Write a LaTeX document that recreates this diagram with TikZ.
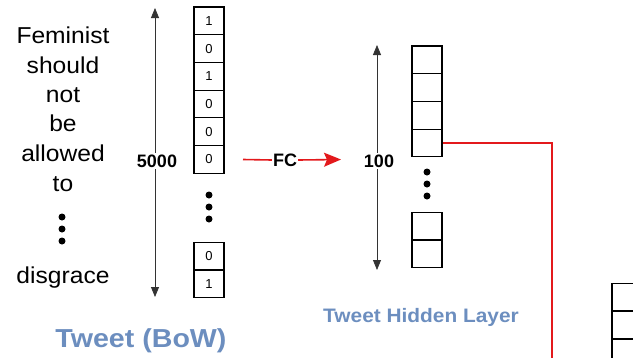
\documentclass[tikz,border=0pt]{standalone}
\usepackage{fontspec}
\setmainfont{Liberation Sans}
\newfontfamily\widesans[FakeStretch=1.07]{Liberation Sans}
\newfontfamily\widersans[FakeStretch=1.1]{Liberation Sans}
\usetikzlibrary{arrows.meta}
\definecolor{capblue}{HTML}{6C8EBF}
\definecolor{fcred}{HTML}{E3191C}
\tikzset{
  cell/.style={draw, line width=1.1pt, minimum width=30pt, minimum height=27.7pt,
    inner sep=0pt, font=\fontsize{13}{13}\selectfont},
  word/.style={anchor=base, inner sep=0pt, font=\widesans\fontsize{23}{23}\selectfont},
  dimlabel/.style={fill=white, inner sep=2pt, font=\fontsize{18}{18}\bfseries\selectfont},
  dimarrow/.style={draw=black!80, line width=0.8pt,
    {Triangle[length=10pt,width=8pt]}-{Triangle[length=10pt,width=8pt]}},
  caption/.style={anchor=base, inner sep=0pt, text=capblue},
  fcline/.style={draw=fcred, line width=1.6pt},
  vdot/.style={circle, fill=black, inner sep=0pt, minimum size=7pt},
}
\begin{document}
\begin{tikzpicture}[x=1pt,y=-1pt]
\path[use as bounding box] (0,0) rectangle (633,357);
\clip (0,0) rectangle (633,357);

% tweet words
\node[word] (w1) at (63,43) {Feminist};
\node[word] (w2) at (63,73) {should};
\node[word] (w3) at (63,102) {not};
\node[word] (w4) at (63,131) {be};
\node[word] (w5) at (63,161) {allowed};
\node[word] (w6) at (63,191) {to};
\node[vdot] (wd1) at (62,217) {};
\node[vdot] (wd2) at (62,229) {};
\node[vdot] (wd3) at (62,241) {};
\node[word] (w7) at (63,283) {disgrace};

% bag-of-words vector
\node[cell] (b1) at (209,20.85) {1};
\node[cell] (b2) at (209,48.55) {0};
\node[cell] (b3) at (209,76.25) {1};
\node[cell] (b4) at (209,103.95) {0};
\node[cell] (b5) at (209,131.65) {0};
\node[cell] (b6) at (209,159.35) {0};
\node[vdot] (bd1) at (209,195) {};
\node[vdot] (bd2) at (209,207) {};
\node[vdot] (bd3) at (209,219) {};
\node[cell] (b7) at (209,256) {0};
\node[cell] (b8) at (209,284) {1};

% vocabulary size
\coordinate (a5top) at (155,8);
\coordinate (a5bot) at (155,297);
\draw[dimarrow] (a5top) -- (a5bot);
\node[dimlabel] (n5000) at (157,161) {5000};

% fully connected step
\node[inner sep=1pt, font=\fontsize{18}{18}\bfseries\selectfont] (fc) at (285,160) {FC};
\coordinate (fcstart) at (243,159.5);
\coordinate (fcend) at (341,159.5);
\draw[fcline] (fcstart) -- (fc.west);
\draw[fcline, -{Stealth[length=17pt,width=14pt,inset=3pt]}] (fc.east) -- (fcend);

% hidden layer
\node[cell] (h1) at (427,59.85) {};
\node[cell] (h2) at (427,87.55) {};
\node[cell] (h3) at (427,115.25) {};
\node[cell] (h4) at (427,142.95) {};
\node[vdot] (hd1) at (427,172) {};
\node[vdot] (hd2) at (427,184) {};
\node[vdot] (hd3) at (427,196) {};
\node[cell] (h5) at (427,226) {};
\node[cell] (h6) at (427,254) {};

\coordinate (a1top) at (377,45);
\coordinate (a1bot) at (377,270);
\draw[dimarrow] (a1top) -- (a1bot);
\node[dimlabel] (n100) at (379,161) {100};

% captions
\node[caption, font=\widersans\fontsize{26}{26}\bfseries\selectfont] (cap1) at (141,347) {Tweet (BoW)};
\node[caption, font=\widesans\fontsize{19.5}{19.5}\bfseries\selectfont] (cap2) at (421,322) {Tweet Hidden Layer};

% next vector (partly visible)
\node[cell] (r1) at (627,297) {};
\node[cell] (r2) at (627,325) {};
\node[cell] (r3) at (627,353) {};

% link from the hidden layer downwards
\coordinate (linkend) at (552,362);
\draw[draw=fcred, line width=1.3pt] (h4.east) -| (linkend);
\end{tikzpicture}
\end{document}
